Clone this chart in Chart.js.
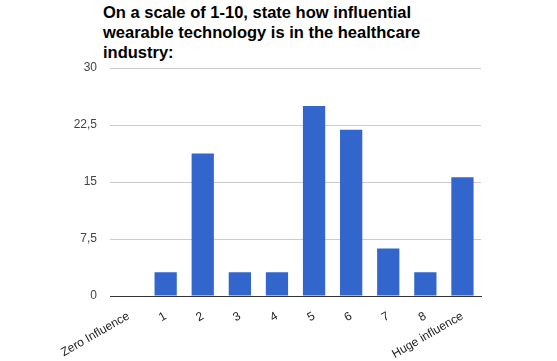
<!DOCTYPE html>
<html>
<head>
<meta charset="utf-8">
<script src="https://cdn.jsdelivr.net/npm/chart.js@4"></script>
<style>
    html, body { margin: 0; padding: 0; background: #fff; }
    .wrap { position: relative; width: 557px; height: 361px; }
    .title {
        position: absolute; left: 103px; top: 1.5px;
        font: bold 16.5px "Liberation Sans", Arial, sans-serif;
        line-height: 20px; color: #000; margin: 0;
    }
    canvas { position: absolute; left: 0; top: 0; }
</style>
</head>
<body>
<div class="wrap">
    <p class="title">On a scale of 1-10, state how influential<br>wearable technology is in the healthcare<br>industry:</p>
    <canvas id="chart" width="557" height="361"></canvas>
</div>
<script>
// Categories along the x axis
const categories = ['Zero Influence', '1', '2', '3', '4', '5', '6', '7', '8', 'Huge influence'];
// Share of answers (%)
const values = [0, 3.125, 18.75, 3.125, 3.125, 25, 21.875, 6.25, 3.125, 15.625];
// Y tick labels use a decimal comma
const yTicks = [0, 7.5, 15, 22.5, 30];

document.addEventListener('DOMContentLoaded', () => {
    const ctx = document.getElementById('chart').getContext('2d');
    Chart.defaults.font.family = '"Liberation Sans", Arial, sans-serif';

    new Chart(ctx, {
        type: 'bar',
        data: {
            labels: categories,
            datasets: [{
                data: values,
                backgroundColor: '#3366cc',
                barPercentage: 0.6,
                categoryPercentage: 1.0
            }]
        },
        options: {
            responsive: false,
            animation: false,
            layout: { padding: { top: 68, right: 76, bottom: 0, left: 0 } },
            plugins: {
                legend: { display: false },
                tooltip: { enabled: false }
            },
            scales: {
                x: {
                    grid: { display: false },
                    border: { display: true, color: '#333', width: 1 },
                    ticks: {
                        color: '#222',
                        font: { size: 12 },
                        minRotation: 30,
                        maxRotation: 30,
                        padding: 5,
                        autoSkip: false
                    },
                    afterFit: (scale) => { scale.height = 65; }
                },
                y: {
                    min: yTicks[0],
                    max: yTicks[yTicks.length - 1],
                    afterBuildTicks: (scale) => {
                        scale.ticks = yTicks.map(v => ({ value: v }));
                    },
                    grid: { color: '#cccccc', drawTicks: false },
                    border: { display: false },
                    ticks: {
                        color: '#444',
                        font: { size: 12 },
                        padding: 13,
                        callback: (v) => String(v).replace('.', ',')
                    },
                    afterFit: (scale) => { scale.width = 110; }
                }
            }
        }
    });
});
</script>
</body>
</html>
